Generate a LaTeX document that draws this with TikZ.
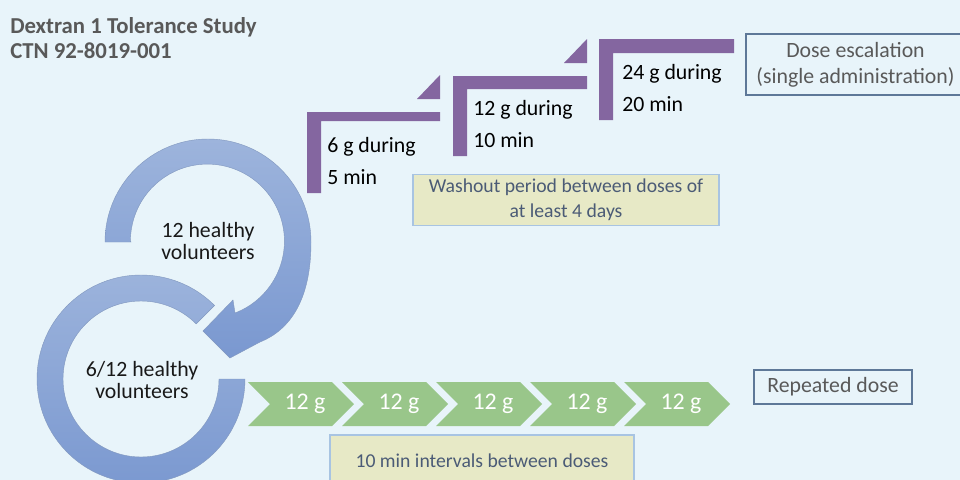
\documentclass[tikz,border=0pt]{standalone}
\usepackage{fontspec}
\setmainfont{Carlito}
\definecolor{bgblue}{HTML}{E8F4FA}
\definecolor{stepviolet}{HTML}{8466A0}
\definecolor{dosegreen}{HTML}{99C68A}
\definecolor{ringtop}{HTML}{9DB4DC}
\definecolor{ringbottom}{HTML}{7A98D0}
\definecolor{ringedge}{HTML}{8298BF}
\definecolor{notefill}{HTML}{E7E9C6}
\definecolor{noteedge}{HTML}{A8C4E2}
\definecolor{notetext}{HTML}{4B5B76}
\definecolor{boxedge}{HTML}{5E7898}
\definecolor{greytext}{HTML}{595959}

\begin{document}
\begin{tikzpicture}[x=0.025cm,y=-0.025cm,
    ring/.style={top color=ringtop,bottom color=ringbottom,draw=ringedge,line width=0.3pt},
    stepbar/.style={fill=stepviolet},
    stepnote/.style={anchor=west,align=left,inner sep=0pt,
      font=\fontsize{15.5}{22.7}\selectfont},
    ringnote/.style={align=center,inner sep=0pt,text=black!90,
      font=\fontsize{15.5}{16}\selectfont},
    dosenote/.style={inner sep=0pt,text=white,font=\fontsize{17}{18}\selectfont},
    kindbox/.style={draw=boxedge,line width=1pt,align=center,text=greytext,
      font=\fontsize{15.5}{18.5}\selectfont},
    notebox/.style={draw=noteedge,fill=notefill,line width=0.8pt,align=center,
      text=notetext,font=\fontsize{14}{17.7}\selectfont}]
  \useasboundingbox (0,0) rectangle (960,480);
  \clip (0,0) rectangle (960,480);
  \fill[bgblue] (0,0) rectangle (960,480);

  % title
  \node[anchor=north west,align=left,inner sep=0pt,text=greytext,
    font=\bfseries\fontsize{16.2}{18}\selectfont] (title) at (10,17)
    {Dextran 1 Tolerance Study\\CTN 92-8019-001};

  % rings
  \path[ring,shift={(141,379)}] (-45:104)
    arc[start angle=-45,end angle=-360,radius=104] -- (0:78)
    arc[start angle=0,end angle=315,radius=78] -- cycle;
  \path[ring,shift={(208,242)}] (180:77) -- (180:103)
    arc[start angle=180,end angle=360,radius=103]
    .. controls +(0,58) and +(30,-12) .. (52,100)
    -- (22,116) -- (-5,89) -- (25,58) -- (27,71)
    arc[start angle=69,end angle=-180,radius=77] -- cycle;
  \node[ringnote] (vol12) at (208,241) {12 healthy\\volunteers};
  \node[ringnote] (vol6) at (142,380) {6/12 healthy\\volunteers};

  % dose escalation steps
  \foreach \x/\yt/\xr/\yb/\th in
    {307/112/440/193/9,453/76/587/156/13,599/39/734/120/14}
    {\fill[stepbar] (\x,\yt) -- (\xr,\yt) -- (\xr,\yt+\th)
      -- (\x+14,\yt+\th) -- (\x+14,\yb) -- (\x,\yb) -- cycle;}

  \foreach \xr/\yb in
    {440/99,587/63}
    {\fill[stepbar] (\xr-23,\yb) -- (\xr,\yb) -- (\xr,\yb-24) -- cycle;}

  \foreach \n/\x/\y/\t in
    {1/327/161/{6 g during\\5 min},2/473/124/{12 g during\\10 min},
     3/622/88/{24 g during\\20 min}}
    {\node[stepnote] (step\n) at (\x,\y) {\t};}

  % repeated doses
  \foreach \i in
    {0,...,4}
    {\fill[dosegreen] (248+94*\i,382) -- ++(84,0) -- ++(22,22) -- ++(-22,22)
      -- ++(-84,0) -- ++(22,-22) -- cycle;
     \node[dosenote] (dose\i) at (305+94*\i,404) {12 g};}

  % labels
  \node[kindbox,minimum width=5.475cm,minimum height=1.525cm] (escal)
    at (855.5,64.5) {Dose escalation\\(single administration)};
  \node[kindbox,minimum width=3.95cm,minimum height=0.85cm] (repeated)
    at (833,387) {Repeated dose};
  \node[notebox,minimum width=7.65cm,minimum height=1.25cm] (washout)
    at (566,200) {Washout period between doses of\\at least 4 days};
  \node[notebox,minimum width=7.6cm,minimum height=1.3cm] (interval)
    at (482,461) {10 min intervals between doses};
\end{tikzpicture}
\end{document}
